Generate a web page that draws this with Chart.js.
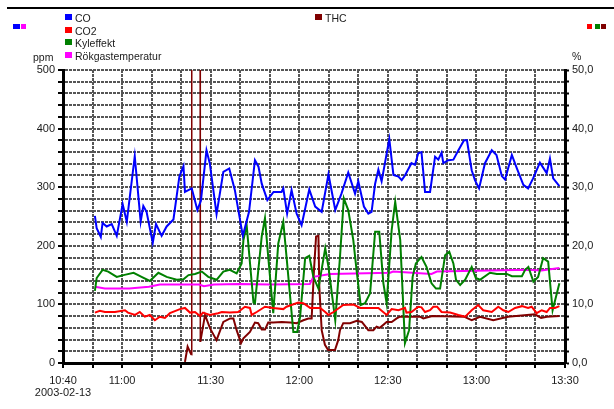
<!DOCTYPE html>
<html>
<head>
<meta charset="utf-8">
<script src="https://cdn.jsdelivr.net/npm/chart.js"></script>
<style>
    body { margin: 0; background: #fff; }
    #wrap { position: relative; width: 614px; height: 409px; font-family: "Liberation Sans", Arial, sans-serif; color: #1a1a1a; }
    #chart { position: absolute; left: 0; top: 0; }
    #topline { position: absolute; left: 7px; top: 7px; width: 607px; height: 2px; background: #000; z-index: 5; }
    .sq { position: absolute; width: 7px; height: 6px; }
    .lbl { position: absolute; font-size: 10.5px; line-height: 12px; white-space: nowrap; }
</style>
</head>
<body>
<div id="wrap">
    <canvas id="chart" width="614" height="409"></canvas>
    <div id="topline"></div>

    <div class="sq" style="left:13px;top:24px;width:7px;height:5px;background:#0000ff"></div>
    <div class="sq" style="left:21px;top:24px;width:5px;height:5px;background:#ff00ff"></div>
    <div class="sq" style="left:587px;top:24px;width:5px;height:5px;background:#ff0000"></div>
    <div class="sq" style="left:595px;top:24px;width:5px;height:5px;background:#008000"></div>
    <div class="sq" style="left:601px;top:24px;width:5px;height:5px;background:#800000"></div>

    <div id="legend"></div>

    <div class="lbl" style="left:33px;top:51px">ppm</div>
    <div class="lbl" style="left:572px;top:50px">%</div>
</div>
<script>
// minutes after 10:40
const tickMinutes = [0, 20, 50, 80, 110, 140, 170];
const tickLabels = ['10:40', '11:00', '11:30', '12:00', '12:30', '13:00', '13:30'];
const dateLabel = '2003-02-13';

const seriesNames = ['CO', 'CO2', 'Kyleffekt', 'Rökgastemperatur', 'THC'];

// CO, ppm
const coTime = [10.8, 11.4, 12.8, 13.4, 14.8, 16.5, 18.2, 20.2, 21.6, 24.3, 26.3, 27.2, 28.3, 30.4, 31.5, 33.4, 35.1, 37.4, 39.4, 40.8,
    41.3, 43.6, 45.5, 46.7, 48.6, 49.7, 52.0, 54.3, 56.3, 58.2, 60.9, 63.0, 65.0, 66.2, 67.3, 69.2, 71.3, 74.0, 74.6, 75.9,
    77.4, 79.1, 80.8, 83.4, 85.4, 87.6, 89.9, 92.2, 94.3, 96.6, 98.9, 100.0, 101.9, 103.4, 104.5, 105.7, 106.8, 107.9, 110.5, 111.9,
    113.6, 114.7, 115.8, 118.0, 119.2, 120.3, 121.4, 122.6, 124.3, 126.0, 127.1, 128.2, 128.8, 130.5, 132.2, 133.9, 135.8, 136.8, 138.4, 139.5,
    140.9, 142.9, 145.2, 146.8, 148.6, 149.7, 152.0, 153.7, 155.9, 157.5, 159.2, 161.5, 163.8, 164.9, 166.0, 168.1];
const coValue = [251, 230, 215, 239, 233, 237, 217, 271, 241, 353, 241, 268, 258, 205, 237, 217, 233, 245, 318, 336,
    292, 298, 261, 277, 363, 341, 254, 326, 332, 295, 217, 258, 346, 335, 306, 278, 292, 292, 298, 255,
    295, 255, 235, 296, 267, 258, 322, 261, 289, 325, 289, 310, 267, 255, 258, 306, 330, 310, 382, 321,
    318, 312, 320, 341, 338, 358, 360, 292, 292, 352, 347, 359, 341, 346, 347, 363, 380, 380, 329, 312,
    298, 341, 363, 355, 319, 313, 355, 332, 304, 298, 315, 342, 324, 349, 315, 302];

// CO2, %
const co2Time = [10.8, 12.5, 14.2, 17.6, 21.0, 22.0, 24.4, 26.0, 27.7, 29.4, 31.1, 32.8, 34.5, 36.2, 39.6, 41.3, 43.0, 44.7, 46.4, 47.4,
    49.7, 52.5, 53.8, 56.5, 59.3, 61.6, 63.3, 63.9, 65.6, 68.4, 71.2, 74.6, 75.7, 79.7, 81.4, 83.7, 87.1, 88.8, 89.9, 91.6,
    94.9, 98.3, 100.6, 104.5, 106.8, 109.6, 111.3, 113.6, 115.8, 116.3, 118.0, 120.3, 121.4, 122.6, 124.3, 125.4, 126.7, 128.2, 131.1, 133.9,
    136.2, 138.4, 140.6, 142.3, 145.2, 147.4, 149.1, 150.8, 153.1, 155.4, 157.5, 158.7, 160.4, 162.1, 163.8, 164.9, 166.6, 168.1];
const co2Value = [8.6, 8.9, 8.7, 8.7, 9.0, 8.6, 8.2, 8.7, 7.9, 8.2, 7.3, 7.9, 7.7, 8.5, 9.2, 9.4, 8.6, 8.7, 8.0, 8.6,
    8.2, 8.5, 8.7, 8.6, 8.7, 9.6, 9.4, 8.2, 8.7, 9.6, 9.4, 9.2, 9.6, 10.3, 10.2, 9.4, 9.4, 8.7, 8.2, 8.7,
    9.9, 10.0, 9.4, 9.4, 9.4, 8.2, 9.2, 9.0, 9.4, 8.6, 8.7, 9.6, 9.5, 8.7, 9.0, 9.6, 9.6, 8.7, 8.6, 8.2,
    7.9, 9.0, 9.9, 9.0, 8.7, 9.6, 9.0, 8.7, 9.4, 9.7, 9.4, 9.6, 8.5, 9.0, 8.7, 9.4, 9.4, 9.7];

// Kyleffekt, %
const kylTime = [10.8, 11.4, 13.4, 15.3, 18.2, 20.5, 23.9, 26.6, 29.4, 32.3, 35.1, 38.5, 40.8, 42.5, 44.7, 47.0, 49.2, 52.0, 54.3, 56.5,
    58.8, 60.5, 61.1, 62.2, 64.5, 65.0, 67.3, 68.4, 69.5, 71.2, 72.9, 74.6, 75.7, 78.0, 79.3, 80.3, 82.0, 83.4, 84.8, 86.5,
    88.8, 89.9, 92.2, 93.8, 95.1, 96.6, 98.3, 99.4, 100.8, 102.3, 104.0, 105.7, 107.1, 108.5, 109.6, 111.3, 112.5, 114.2, 115.8, 117.2,
    118.4, 119.5, 121.4, 123.1, 124.8, 126.3, 127.7, 129.4, 130.8, 132.2, 133.1, 134.5, 136.2, 138.4, 139.8, 141.2, 144.6, 146.9, 150.3, 152.0,
    155.4, 156.5, 157.6, 159.3, 160.9, 162.6, 164.3, 165.8, 168.1];
const kylValue = [12.3, 14.5, 15.9, 15.6, 14.7, 15.0, 15.4, 14.7, 14.0, 15.4, 14.7, 14.2, 14.3, 15.0, 15.2, 15.6, 14.7, 14.2, 15.6, 15.9,
    15.3, 17.0, 21.0, 23.5, 10.3, 10.2, 21.6, 24.7, 18.1, 8.5, 20.4, 24.1, 18.1, 5.3, 5.3, 7.9, 17.9, 18.3, 14.7, 12.7,
    19.6, 16.4, 7.3, 18.1, 28.1, 26.1, 21.0, 15.9, 9.9, 10.2, 11.9, 22.4, 22.4, 13.6, 10.2, 22.7, 27.5, 21.0, 3.4, 5.6,
    14.7, 17.0, 18.1, 16.4, 13.6, 12.7, 12.7, 18.4, 19.0, 17.0, 14.2, 13.3, 14.2, 16.4, 14.5, 14.2, 15.4, 15.2, 15.2, 14.8,
    14.8, 15.9, 16.4, 13.9, 14.7, 17.9, 17.3, 9.0, 13.6];

// Rökgastemperatur, %
const rokTime = [10.8, 14.2, 22.4, 29.1, 32.8, 46.1, 47.7, 51.1, 60.0, 70.0, 83.6, 84.8, 90.5, 110.8, 111.8, 124.8, 126.6, 157.5, 162.0, 168.1];
const rokValue = [13.0, 12.7, 12.7, 13.0, 13.4, 13.4, 13.1, 13.4, 13.5, 13.4, 13.5, 14.7, 15.2, 15.4, 15.6, 15.2, 15.6, 15.9, 15.8, 16.2];

// THC, ppm (goes off scale between 11:23 and 11:26)
const thcTime = [41.3, 42.2, 43.0, 43.5, 43.6, 46.4, 46.5, 48.1, 49.8, 52.0, 54.3, 56.6, 57.7, 58.8, 60.3, 61.1, 63.3, 65.0, 66.1, 67.3,
    68.4, 69.5, 71.2, 74.1, 76.9, 79.1, 81.4, 83.1, 84.2, 85.0, 85.7, 86.5, 86.8, 87.6, 88.7, 89.8, 92.1, 93.2, 93.8, 94.9,
    97.2, 99.5, 101.2, 103.4, 105.1, 106.2, 107.3, 109.6, 111.3, 113.0, 114.1, 120.9, 122.0, 125.1, 135.8, 138.4, 141.2, 145.7, 150.7, 159.8,
    161.9, 163.9, 168.1];
const thcValue = [2, 28, 19, 14, 900, 900, 36, 82, 59, 39, 70, 76, 76, 56, 34, 42, 53, 69, 68, 57,
    57, 69, 69, 70, 69, 68, 73, 76, 76, 159, 216, 217, 130, 56, 31, 22, 22, 39, 56, 68,
    68, 72, 70, 56, 56, 62, 60, 70, 70, 76, 79, 79, 76, 80, 79, 73, 79, 73, 79, 83,
    77, 79, 80];

const colors = ['#0000ff', '#ff0000', '#008000', '#ff00ff', '#800000'];

function pts(times, values) {
    return times.map((t, i) => ({ x: t, y: values[i] }));
}

// legend
const legendPos = [
    { left: 65, top: 12 }, { left: 65, top: 24.5 }, { left: 65, top: 37 }, { left: 65, top: 49.5 }, { left: 315, top: 12 }
];
const legend = document.getElementById('legend');
seriesNames.forEach((name, i) => {
    const p = legendPos[i];
    legend.innerHTML += `<div class="sq" style="left:${p.left}px;top:${p.top + 2}px;background:${colors[i]}"></div>` +
        `<div class="lbl" style="left:${p.left + 10}px;top:${p.top}px">${name}</div>`;
});

const tickFont = { family: '"Liberation Sans", Arial, sans-serif', size: 11, lineHeight: 1.1 };

function line(i, data, axis) {
    return {
        label: seriesNames[i],
        data: data,
        yAxisID: axis,
        borderColor: colors[i],
        backgroundColor: colors[i],
        borderWidth: 2,
        pointRadius: 0,
        tension: 0,
        fill: false,
        // off-scale jumps are drawn thinner
        segment: {
            borderWidth: ctx => (ctx.p0.parsed.y > 500 || ctx.p1.parsed.y > 500 ? 1.5 : 2)
        }
    };
}

const gridStyle = { color: '#555', lineWidth: 2, tickLength: 5, tickColor: '#000', tickWidth: 2, tickBorderDash: [] };

new Chart(document.getElementById('chart'), {
    type: 'line',
    data: {
        datasets: [
            line(0, pts(coTime, coValue), 'y'),
            line(1, pts(co2Time, co2Value), 'y1'),
            line(2, pts(kylTime, kylValue), 'y1'),
            line(3, pts(rokTime, rokValue), 'y1'),
            line(4, pts(thcTime, thcValue), 'y')
        ]
    },
    options: {
        responsive: false,
        animation: false,
        layout: { padding: { top: 70, left: 0, right: 0, bottom: 0 } },
        plugins: { legend: { display: false }, tooltip: { enabled: false } },
        scales: {
            x: {
                type: 'linear',
                min: 0,
                max: 170,
                afterFit: s => { s.height = 46; },
                afterBuildTicks: s => { s.ticks = []; for (let m = 0; m <= 170; m += 10) s.ticks.push({ value: m }); },
                ticks: {
                    autoSkip: false,
                    maxRotation: 0,
                    padding: 7,
                    color: '#1a1a1a',
                    font: tickFont,
                    callback: v => {
                        const k = tickMinutes.indexOf(v);
                        if (k < 0) return '';
                        return k === 0 ? [tickLabels[0], dateLabel] : tickLabels[k];
                    }
                },
                grid: gridStyle,
                border: { display: true, color: '#000', width: 3, dash: [3, 1] }
            },
            y: {
                position: 'left',
                min: 0,
                max: 500,
                afterFit: s => { s.width = 63; },
                afterBuildTicks: s => { s.ticks = []; for (let v = 0; v <= 500; v += 20) s.ticks.push({ value: v }); },
                ticks: {
                    autoSkip: false,
                    padding: 3,
                    color: '#1a1a1a',
                    font: tickFont,
                    callback: v => (v % 100 === 0 ? String(v) : '')
                },
                grid: gridStyle,
                border: { display: true, color: '#000', width: 3, dash: [3, 1] }
            },
            y1: {
                position: 'right',
                min: 0,
                max: 50,
                afterFit: s => { s.width = 49; },
                afterBuildTicks: s => { s.ticks = []; for (let v = 0; v <= 50; v += 2) s.ticks.push({ value: v }); },
                ticks: {
                    autoSkip: false,
                    padding: 3,
                    color: '#1a1a1a',
                    font: tickFont,
                    callback: v => (v % 10 === 0 ? v.toFixed(1).replace('.', ',') : '')
                },
                grid: { drawOnChartArea: false, tickLength: 4, tickColor: '#000', tickWidth: 2, tickBorderDash: [] },
                border: { display: true, color: '#000', width: 3 }
            }
        }
    }
});
</script>
</body>
</html>
